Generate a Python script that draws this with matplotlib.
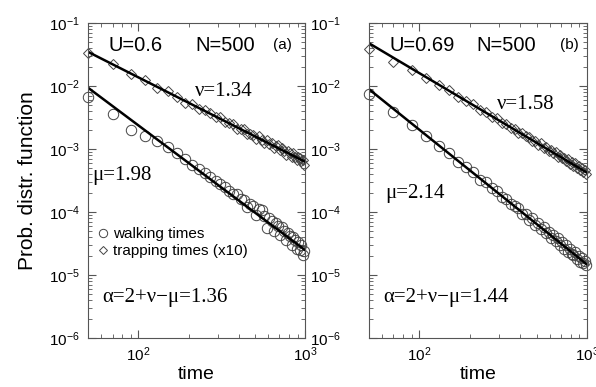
import numpy as np
import matplotlib
matplotlib.use("Agg")
import matplotlib.pyplot as plt

plt.rcParams['font.family'] = ['Liberation Sans', 'DejaVu Sans']
plt.rcParams['mathtext.fontset'] = 'custom'
plt.rcParams['mathtext.rm'] = 'Liberation Sans'
plt.rcParams['mathtext.it'] = 'Liberation Sans'

# time bins (same for all series)
t = [50, 70, 90, 110, 130, 150, 170, 190, 210, 230, 250, 270, 290, 310, 330, 350,
     370, 390, 410, 430, 450, 470, 490, 510, 530, 550, 570, 590, 610, 630, 650, 670,
     690, 710, 730, 750, 770, 790, 810, 830, 850, 870, 890, 910, 930, 950, 970, 990]

# log10 of probability
logp_trap_a = [-1.48, -1.65, -1.81, -1.91, -2.03, -2.08, -2.17, -2.27, -2.28, -2.36, -2.38, -2.43,
               -2.50, -2.49, -2.57, -2.59, -2.60, -2.68, -2.68, -2.68, -2.76, -2.76, -2.77, -2.84,
               -2.79, -2.85, -2.90, -2.85, -2.92, -2.90, -2.98, -2.95, -2.93, -3.02, -2.99, -3.03,
               -3.09, -3.03, -3.06, -3.13, -3.06, -3.12, -3.18, -3.12, -3.15, -3.19, -3.17, -3.25]
logp_walk_a = [-2.17, -2.44, -2.70, -2.79, -2.88, -2.97, -3.06, -3.16, -3.25, -3.31, -3.38, -3.44,
               -3.51, -3.55, -3.60, -3.66, -3.71, -3.72, -3.79, -3.81, -3.92, -3.88, -3.91, -4.05,
               -3.96, -3.97, -4.07, -4.25, -4.10, -4.14, -4.30, -4.18, -4.22, -4.36, -4.24, -4.30,
               -4.45, -4.33, -4.38, -4.52, -4.40, -4.45, -4.58, -4.48, -4.60, -4.53, -4.68, -4.62]
logp_trap_b = [-1.41, -1.62, -1.75, -1.88, -1.99, -2.06, -2.17, -2.24, -2.29, -2.38, -2.41, -2.49,
               -2.51, -2.58, -2.60, -2.67, -2.68, -2.74, -2.75, -2.80, -2.81, -2.87, -2.87, -2.93,
               -2.91, -2.98, -2.97, -3.03, -3.01, -3.07, -3.05, -3.12, -3.09, -3.15, -3.14, -3.19,
               -3.16, -3.24, -3.20, -3.27, -3.23, -3.30, -3.27, -3.34, -3.30, -3.36, -3.33, -3.39]
logp_walk_b = [-2.13, -2.41, -2.62, -2.80, -2.95, -3.06, -3.20, -3.28, -3.37, -3.49, -3.53, -3.62,
               -3.67, -3.76, -3.79, -3.88, -3.90, -3.94, -4.03, -4.03, -4.12, -4.10, -4.20, -4.17,
               -4.27, -4.24, -4.33, -4.31, -4.41, -4.37, -4.46, -4.42, -4.53, -4.48, -4.58, -4.52,
               -4.63, -4.59, -4.66, -4.68, -4.64, -4.74, -4.70, -4.79, -4.73, -4.81, -4.78, -4.84]

# power-law fits: amplitude, exponent
fit_trap_a = (6.56, 1.34)
fit_walk_a = (21.6, 1.98)
fit_trap_b = (23.1, 1.58)
fit_walk_b = (38.5, 2.14)

panels = [
    dict(trap=logp_trap_a, walk=logp_walk_a, ftrap=fit_trap_a, fwalk=fit_walk_a,
         U='U=0.6', tag='(a)', nu='\u03bd=1.34', mu='\u03bc=1.98',
         alpha='\u03b1=2+\u03bd\u2212\u03bc=1.36'),
    dict(trap=logp_trap_b, walk=logp_walk_b, ftrap=fit_trap_b, fwalk=fit_walk_b,
         U='U=0.69', tag='(b)', nu='\u03bd=1.58', mu='\u03bc=2.14',
         alpha='\u03b1=2+\u03bd\u2212\u03bc=1.44'),
]

fig = plt.figure(figsize=(5.96, 3.87), dpi=100)
ax_a = fig.add_axes([0.148, 0.1266, 0.364, 0.814])
ax_b = fig.add_axes([0.619, 0.1266, 0.366, 0.814])

serif = ['Liberation Serif', 'DejaVu Serif']
t = np.array(t)
tt = np.array([50, 1000])

for ax, p in zip([ax_a, ax_b], panels):
    ax.set_xscale('log')
    ax.set_yscale('log')
    ax.plot(t, 10 ** np.array(p['walk']), 'o', ms=7.5, mfc='none', mec='#444444', mew=0.7,
            label='walking times', clip_on=False)
    ax.plot(t, 10 ** np.array(p['trap']), 'D', ms=5, mfc='none', mec='#444444', mew=0.7,
            label='trapping times (x10)', clip_on=False)
    ax.plot(tt, p['fwalk'][0] * tt ** -p['fwalk'][1], 'k-', lw=1.8)
    ax.plot(tt, p['ftrap'][0] * tt ** -p['ftrap'][1], 'k-', lw=1.8)
    ax.set_xlim(50, 1000)
    ax.set_ylim(1e-6, 1e-1)
    ax.tick_params(which='both', direction='in', top=True, right=True, labelsize=11,
                   color='#555555')
    ax.tick_params(which='major', length=6)
    ax.tick_params(which='minor', length=3)
    ax.tick_params(axis='x', pad=5)
    for s in ax.spines.values():
        s.set_color('#555555')
    ax.set_xlabel('time', fontsize=14, labelpad=2)
    ax.text(0.095, 0.93, p['U'], transform=ax.transAxes, fontsize=14.5, va='center')
    ax.text(0.493, 0.93, 'N=500', transform=ax.transAxes, fontsize=14.5, va='center')

ax_a.tick_params(axis='y', pad=6)
ax_b.tick_params(axis='y', pad=20)
ax_a.set_ylabel('Prob. distr. function', fontsize=15, labelpad=9)

ax_a.text(0.853, 0.93, panels[0]['tag'], transform=ax_a.transAxes, fontsize=11, va='center')
ax_a.text(0.493, 0.781, panels[0]['nu'], transform=ax_a.transAxes, fontsize=15, va='center', family=serif)
ax_a.text(0.018, 0.517, panels[0]['mu'], transform=ax_a.transAxes, fontsize=15, va='center', family=serif)
ax_a.text(0.065, 0.127, panels[0]['alpha'], transform=ax_a.transAxes, fontsize=15, va='center', family=serif)
ax_a.legend(loc='upper left', bbox_to_anchor=(0.0, 0.385), frameon=False, fontsize=11,
            handlelength=0.6, handletextpad=0.3, labelspacing=0.2, borderpad=0.2,
            markerscale=0.8)

ax_b.text(0.876, 0.93, panels[1]['tag'], transform=ax_b.transAxes, fontsize=11, va='center')
ax_b.text(0.587, 0.74, panels[1]['nu'], transform=ax_b.transAxes, fontsize=15, va='center', family=serif)
ax_b.text(0.073, 0.46, panels[1]['mu'], transform=ax_b.transAxes, fontsize=15, va='center', family=serif)
ax_b.text(0.064, 0.13, panels[1]['alpha'], transform=ax_b.transAxes, fontsize=15, va='center', family=serif)

fig.savefig('out.png', dpi=100)
